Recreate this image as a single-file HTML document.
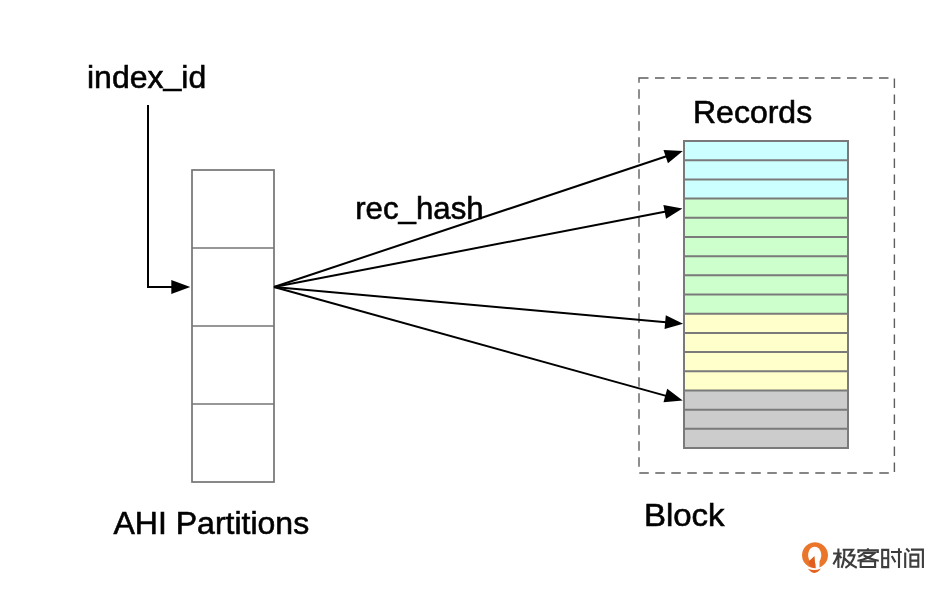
<!DOCTYPE html>
<html>
<head>
<meta charset="utf-8">
<title>AHI Partitions</title>
<style>
html,body{margin:0;padding:0;background:#fff;}
body{width:948px;height:596px;overflow:hidden;font-family:"Liberation Sans",sans-serif;}
svg{display:block;}
text{font-family:"Liberation Sans",sans-serif;fill:#000;stroke:#000;stroke-width:0.6px;}
</style>
</head>
<body>
<svg width="948" height="596" viewBox="0 0 948 596">
<rect width="948" height="596" fill="#fff"/>

<!-- dashed Block container -->
<rect x="639" y="78" width="255.4" height="395" fill="none" stroke="#5e5e5e" stroke-width="1.4" stroke-dasharray="9.5 6.5"/>

<!-- AHI partitions -->
<g fill="#fff" stroke="#747474" stroke-width="1.7">
<rect x="192" y="170" width="82" height="312"/>
<line x1="192" y1="248" x2="274" y2="248"/>
<line x1="192" y1="326" x2="274" y2="326"/>
<line x1="192" y1="404" x2="274" y2="404"/>
</g>

<!-- records -->
<g id="records" stroke="#7a7a7a" stroke-width="2">
<rect x="684" y="141" width="164" height="57.57" fill="#ccffff" stroke="none"/>
<rect x="684" y="198.57" width="164" height="115.14" fill="#ccffcc" stroke="none"/>
<rect x="684" y="313.71" width="164" height="76.76" fill="#ffffcc" stroke="none"/>
<rect x="684" y="390.47" width="164" height="57.57" fill="#cccccc" stroke="none"/>
<path d="M684 160.19H848M684 179.38H848M684 198.57H848M684 217.76H848M684 236.95H848M684 256.14H848M684 275.33H848M684 294.52H848M684 313.71H848M684 332.9H848M684 352.09H848M684 371.28H848M684 390.47H848M684 409.66H848M684 428.85H848" fill="none"/>
<rect x="684" y="141" width="164" height="307" fill="none"/>
</g>

<!-- index_id elbow arrow -->
<path d="M148 105V287H173" fill="none" stroke="#000" stroke-width="2"/>
<path d="M190.3 287L171.3 279.9V294.1Z" fill="#000"/>

<!-- fan arrows -->
<g stroke="#000" stroke-width="2" fill="none">
<line x1="274" y1="287" x2="668" y2="155.8"/>
<line x1="274" y1="287" x2="666" y2="211.6"/>
<line x1="274" y1="287" x2="666" y2="322.2"/>
<line x1="274" y1="287" x2="667" y2="396.1"/>
</g>
<g fill="#000">
<path d="M0 0L-18 -7V7Z" transform="translate(682.8 151) rotate(-18.4)"/>
<path d="M0 0L-18 -7V7Z" transform="translate(682.4 208.5) rotate(-10.9)"/>
<path d="M0 0L-18 -7V7Z" transform="translate(683.1 323.7) rotate(5.1)"/>
<path d="M0 0L-18 -7V7Z" transform="translate(682.7 400.4) rotate(15.5)"/>
</g>

<!-- labels -->
<g id="labels" opacity="0.999">
<text x="87" y="87.6" font-size="32">index<tspan dy="-2.2">_</tspan><tspan dy="2.2">id</tspan></text>
<text transform="translate(355.2 219.2) scale(0.976 1)" font-size="32">rec<tspan dy="-1.6">_</tspan><tspan dy="1.6">hash</tspan></text>
<text x="693" y="123.2" font-size="32">Records</text>
<text x="113.5" y="533.8" font-size="32">AHI Partitions</text>
<text transform="translate(643.9 525.8) scale(1.032 1)" font-size="32">Block</text>
</g>


<!-- watermark logo -->
<g id="logo">
<path fill-rule="evenodd" fill="#e9762b" d="M815 542.3A13 13 0 1 0 815.01 542.3ZM814.7 546.7A6.6 8.5 0 1 0 814.71 546.7Z"/>
<rect x="815.5" y="556" width="4" height="13.6" fill="#fff"/>
<path d="M814.5 556L815.5 568.2L810.4 566.6L808.5 561.4Z" fill="#de5f1f"/>
<path d="M807.8 568.7Q814.6 571.6 820.8 568.5Q815 577.2 807.8 568.7Z" fill="#e4641f"/>
<g fill="none" stroke="#3d3d3d" stroke-width="2.1" stroke-linejoin="miter">
<!-- ji -->
<path d="M833.1 553.5H841.6M838.4 548.4V568M838 554.6Q836.6 560 833.3 564.3M839 555.2L841.4 558.2"/>
<path d="M844.3 549.7Q844.7 560 841.6 567.8M842.6 549.7H852.9L848.9 555.4H854.5Q852.5 563 845.4 567.9M843.3 557Q848.5 563.5 856.8 567.8"/>
<!-- ke -->
<path d="M867.9 548.3V550M858.4 553.1V550.4H877.8V553.1"/>
<path d="M864.7 552.2Q862 555.2 858.4 556.7M864 552.9H874.8Q868 559.2 857.4 560.7M863.6 555.2Q869 559.3 878.8 560.7"/>
<path d="M860.7 561.3H875.1V567H860.7Z"/>
<!-- shi -->
<path d="M882.2 549.9H888.2V567.1H882.2ZM882.2 558.3H888.2"/>
<path d="M891 552H901.8M899 548.3V568M891.8 556L895.4 562.2"/>
<!-- jian -->
<path d="M906.2 548.6L909.4 551.8M905.2 552.6V568.1M911 549.6H922.9V568"/>
<path d="M910.4 554.6H918.3V566.7H910.4ZM910.4 560.6H918.3"/>
</g>
</g>
</svg>
</body>
</html>
